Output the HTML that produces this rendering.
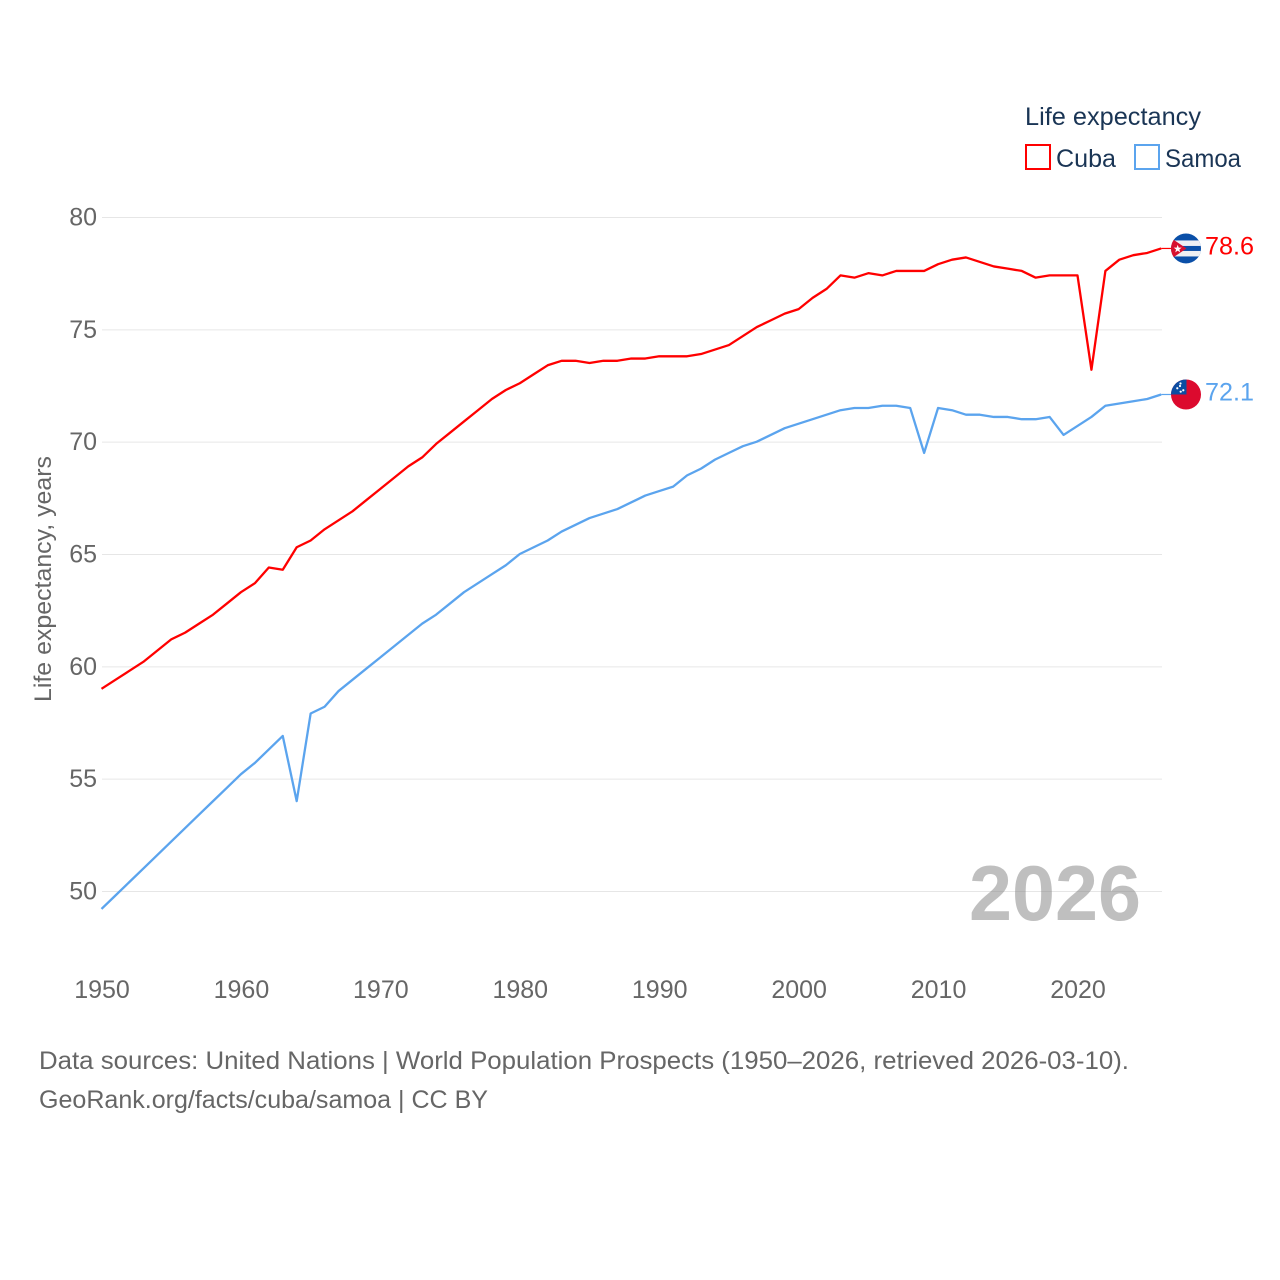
<!DOCTYPE html>
<html lang="en">
<head>
<meta charset="utf-8">
<title>Life expectancy: Cuba and Samoa</title>
<style>
html,body{margin:0;padding:0;background:#fff;}
svg{display:block;font-family:"Liberation Sans",sans-serif;}
</style>
</head>
<body>
<svg id="chart" xmlns="http://www.w3.org/2000/svg" width="1280" height="1280" viewBox="0 0 1280 1280">
  <rect width="1280" height="1280" fill="#fff"/>
  <defs>
    <clipPath id="clip-cuba"><circle id="clip-cuba-c" r="15" cx="0" cy="0"/></clipPath>
    <clipPath id="clip-samoa"><circle id="clip-samoa-c" r="15" cx="0" cy="0"/></clipPath>
  </defs>
  <g id="grid"></g>
  <g id="yticks"></g>
  <g id="xticks"></g>
  <text x="1141" y="920" text-anchor="end" font-size="78" font-weight="bold" fill="#808080" fill-opacity="0.5" textLength="172" lengthAdjust="spacingAndGlyphs">2026</text>
  <text transform="translate(51,702) rotate(-90)" font-size="24" fill="#666" textLength="246" lengthAdjust="spacingAndGlyphs">Life expectancy, years</text>
  <g id="series"></g>
  <g id="flags"></g>
  <g>
    <text x="1025" y="125" font-size="25" fill="#1a3555" textLength="176" lengthAdjust="spacingAndGlyphs">Life expectancy</text>
    <rect x="1026" y="145" width="24" height="24" fill="#fff" stroke="#ff0000" stroke-width="2"/>
    <text x="1056" y="167" font-size="25" fill="#1a3555" textLength="60" lengthAdjust="spacingAndGlyphs">Cuba</text>
    <rect x="1135" y="145" width="24" height="24" fill="#fff" stroke="#5ba4ee" stroke-width="2"/>
    <text x="1165" y="167" font-size="25" fill="#1a3555" textLength="76" lengthAdjust="spacingAndGlyphs">Samoa</text>
  </g>
  <text x="39" y="1069" font-size="25" fill="#666" textLength="1090" lengthAdjust="spacingAndGlyphs">Data sources: United Nations | World Population Prospects (1950–2026, retrieved 2026-03-10).</text>
  <text x="39" y="1108" font-size="25" fill="#666" textLength="449" lengthAdjust="spacingAndGlyphs">GeoRank.org/facts/cuba/samoa | CC BY</text>
</svg>
<script>
const firstYear = 1950;
const yTickLabels = [50, 55, 60, 65, 70, 75, 80];
const xTickLabels = [1950, 1960, 1970, 1980, 1990, 2000, 2010, 2020];
const cubaValues = [59.0,59.4,59.8,60.2,60.7,61.2,61.5,61.9,62.3,62.8,63.3,63.7,64.4,64.3,65.3,65.6,66.1,66.5,66.9,67.4,67.9,68.4,68.9,69.3,69.9,70.4,70.9,71.4,71.9,72.3,72.6,73.0,73.4,73.6,73.6,73.5,73.6,73.6,73.7,73.7,73.8,73.8,73.8,73.9,74.1,74.3,74.7,75.1,75.4,75.7,75.9,76.4,76.8,77.4,77.3,77.5,77.4,77.6,77.6,77.6,77.9,78.1,78.2,78.0,77.8,77.7,77.6,77.3,77.4,77.4,77.4,73.2,77.6,78.1,78.3,78.4,78.6];
const samoaValues = [49.2,49.8,50.4,51.0,51.6,52.2,52.8,53.4,54.0,54.6,55.2,55.7,56.3,56.9,54.0,57.9,58.2,58.9,59.4,59.9,60.4,60.9,61.4,61.9,62.3,62.8,63.3,63.7,64.1,64.5,65.0,65.3,65.6,66.0,66.3,66.6,66.8,67.0,67.3,67.6,67.8,68.0,68.5,68.8,69.2,69.5,69.8,70.0,70.3,70.6,70.8,71.0,71.2,71.4,71.5,71.5,71.6,71.6,71.5,69.5,71.5,71.4,71.2,71.2,71.1,71.1,71.0,71.0,71.1,70.3,70.7,71.1,71.6,71.7,71.8,71.9,72.1];

const NS = 'http://www.w3.org/2000/svg';
function xScale(year) { return 101.5 + (year - 1950) * 976 / 70; }
function yScale(v) { return 891 - (v - 50) * 674 / 30; }
function make(tag, attrs, parent) {
  const el = document.createElementNS(NS, tag);
  for (const k in attrs) el.setAttribute(k, attrs[k]);
  parent.appendChild(el);
  return el;
}
const grid = document.getElementById('grid');
const yticks = document.getElementById('yticks');
const xticks = document.getElementById('xticks');
const series = document.getElementById('series');
const flags = document.getElementById('flags');

yTickLabels.forEach(function (v) {
  const line = make('line', {x1: 102, x2: 1162, y1: yScale(v) + 0.5, y2: yScale(v) + 0.5, stroke: '#e6e6e6', 'stroke-width': 1}, grid);
  
  
  const t = make('text', {x: 97, y: yScale(v) + 8.5, 'text-anchor': 'end', 'font-size': 25, fill: '#666'}, yticks);
  
  
  t.textContent = v;
});
xTickLabels.forEach(function (y) {
  const t = make('text', {x: xScale(y) + 0.5, y: 998, 'text-anchor': 'middle', 'font-size': 25, fill: '#666'}, xticks);
  
  
  t.textContent = y;
});

function drawSeries(name, values, color) {
  const pts = values.map(function (v, i) { return xScale(firstYear + i).toFixed(2) + ',' + yScale(v).toFixed(2); });
  const line = make('polyline', {points: pts.join(' '), fill: 'none', stroke: color, 'stroke-width': 2.3, 'stroke-linejoin': 'round'}, series);
  
  
  const lastY = yScale(values[values.length - 1]);
  const lastX = xScale(firstYear + values.length - 1);
  const conn = make('line', {x1: lastX, x2: 1172, y1: lastY, y2: lastY, stroke: color, 'stroke-width': 1.2}, series);
  
  
  const label = make('text', {x: 1205, y: lastY + 6, 'font-size': 25, fill: color, textLength: 49, lengthAdjust: 'spacingAndGlyphs'}, series);
  
  
  label.textContent = values[values.length - 1].toFixed(1);
  return lastY;
}
const cubaFlagY = drawSeries('cuba', cubaValues, '#ff0000');
const samoaFlagY = drawSeries('samoa', samoaValues, '#5ba4ee');

const cx = 1186;
const cc = document.getElementById('clip-cuba-c');
cc.setAttribute('cx', cx);
cc.setAttribute('cy', cubaFlagY);
const sc = document.getElementById('clip-samoa-c');
sc.setAttribute('cx', cx);
sc.setAttribute('cy', samoaFlagY);

const cubaFlag = make('g', {'clip-path': 'url(#clip-cuba)'}, flags);


make('rect', {x: cx - 15, y: cubaFlagY - 15, width: 30, height: 30, fill: '#0a4fa8'}, cubaFlag);
make('rect', {x: cx - 15, y: cubaFlagY - 8, width: 30, height: 5.5, fill: '#eef0f4'}, cubaFlag);
make('rect', {x: cx - 15, y: cubaFlagY + 2.5, width: 30, height: 5.5, fill: '#eef0f4'}, cubaFlag);
make('polygon', {points: [(cx - 15) + ',' + (cubaFlagY - 10.5), (cx + 0.5) + ',' + cubaFlagY, (cx - 15) + ',' + (cubaFlagY + 10.5)].join(' '), fill: '#d8102e'}, cubaFlag);
const starPts = [];
for (let i = 0; i < 10; i++) {
  const r = i % 2 ? 1.7 : 4.2;
  const a = -Math.PI / 2 + i * Math.PI / 5;
  starPts.push((cx - 8.3 + r * Math.cos(a)).toFixed(2) + ',' + (cubaFlagY + 0.5 + r * Math.sin(a)).toFixed(2));
}
make('polygon', {points: starPts.join(' '), fill: '#fff'}, cubaFlag);

const samoaFlag = make('g', {'clip-path': 'url(#clip-samoa)'}, flags);


make('rect', {x: cx - 15, y: samoaFlagY - 15, width: 30, height: 30, fill: '#dc0a2e'}, samoaFlag);
make('rect', {x: cx - 15, y: samoaFlagY - 15, width: 15.5, height: 15, fill: '#0c4da2'}, samoaFlag);
[[-8.7, -6.2], [-5.3, -2.8], [-6, -8.5], [-2.7, -4.2], [-5.5, -11]].forEach(function (p) {
  make('circle', {cx: cx + p[0], cy: samoaFlagY + p[1], r: 1.1, fill: '#fff'}, samoaFlag);
});
</script>
</body>
</html>
